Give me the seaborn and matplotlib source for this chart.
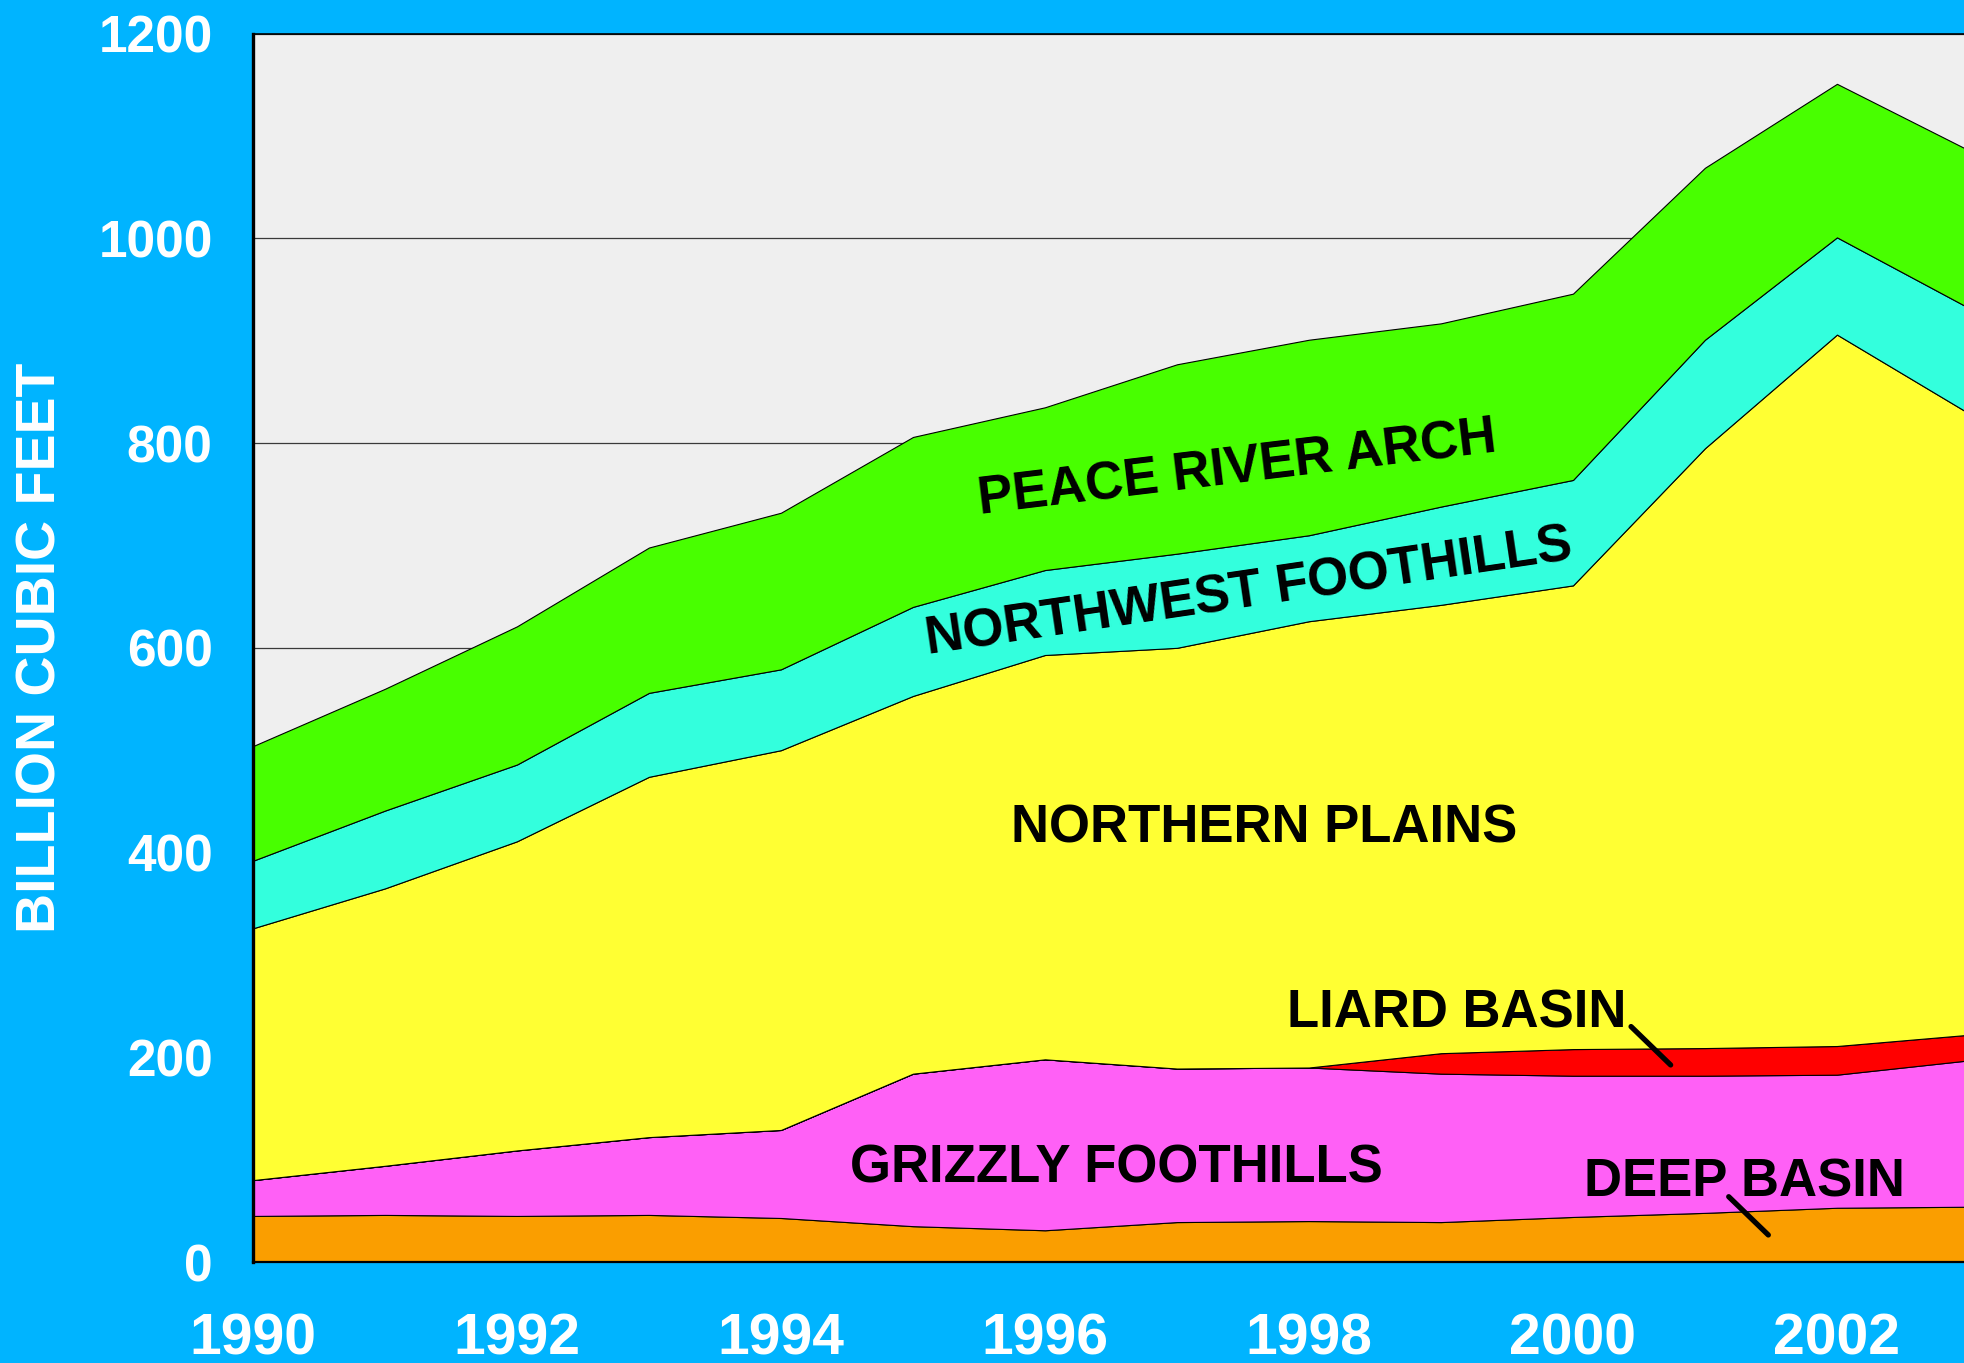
import numpy as np
import pandas as pd
import matplotlib
matplotlib.use("Agg")
import matplotlib.pyplot as plt
import seaborn as sns

# ---- data (billion cubic feet) ----
years = [1990, 1991, 1992, 1993, 1994, 1995, 1996, 1997, 1998, 1999, 2000, 2001, 2002, 2003]
deep_basin = [45, 46, 45, 46, 43, 35, 31, 39, 40, 39, 44, 48, 53, 54]
grizzly_foothills = [35, 48, 64, 76, 86, 149, 167, 150, 150, 145, 138, 134, 130, 143]
liard_basin = [0, 0, 0, 0, 0, 0, 0, 0, 0, 20, 26, 27, 28, 25]
northern_plains = [246, 271, 302, 352, 371, 369, 395, 411, 436, 438, 453, 586, 695, 607]
northwest_foothills = [66, 76, 75, 82, 79, 87, 83, 92, 84, 96, 103, 106, 95, 103]
peace_river_arch = [112, 119, 135, 142, 153, 166, 159, 185, 191, 179, 182, 168, 150, 154]

series_names = ["DEEP BASIN", "GRIZZLY FOOTHILLS", "LIARD BASIN", "NORTHERN PLAINS",
                "NORTHWEST FOOTHILLS", "PEACE RIVER ARCH"]
series_colors = ["#FA9E00", "#FF60F6", "#FF0000", "#FFFF33", "#33FFDD", "#48FF00"]
y_ticks = [0, 200, 400, 600, 800, 1000, 1200]
y_label = "BILLION CUBIC FEET"

df = pd.DataFrame({
    "year": years,
    "DEEP BASIN": deep_basin,
    "GRIZZLY FOOTHILLS": grizzly_foothills,
    "LIARD BASIN": liard_basin,
    "NORTHERN PLAINS": northern_plains,
    "NORTHWEST FOOTHILLS": northwest_foothills,
    "PEACE RIVER ARCH": peace_river_arch,
})

sns.set_theme(style="white")
plt.rcParams["font.family"] = ["Liberation Sans", "DejaVu Sans"]
plt.rcParams["font.weight"] = "bold"

BG = "#00B4FF"
fig = plt.figure(figsize=(19.65, 13.63), dpi=100, facecolor=BG)
ax = fig.add_axes([0.12875, 0.0741, 0.87125, 0.9012])
ax.set_facecolor("#EFEFEF")

# grid behind areas
ax.set_axisbelow(True)
ax.yaxis.grid(True, color="#3a3a3a", linewidth=0.9)
ax.xaxis.grid(False)

ax.stackplot(df["year"], *[df[n] for n in series_names], colors=series_colors,
             edgecolor="black", linewidth=0.8, zorder=2)

ax.set_xlim(1990, 2002.97)
ax.set_ylim(0, 1200)

tick_years = [y for y in years if y <= 2002]
ax.set_xticks(tick_years)
ax.set_xticklabels([str(y) if y % 2 == 0 else "" for y in tick_years])
ax.set_yticks(y_ticks)
ax.set_yticklabels([str(v) for v in y_ticks])

ax.tick_params(axis="both", which="major", direction="out", color="white",
               length=21, width=1.6, labelcolor="white")
ax.tick_params(axis="x", pad=15, labelsize=41)
ax.tick_params(axis="y", pad=8, labelsize=37)
for lab in ax.get_xticklabels() + ax.get_yticklabels():
    lab.set_fontweight("bold")

for side, lw in [("left", 2.4), ("bottom", 1.6), ("top", 1.2)]:
    ax.spines[side].set_visible(True)
    ax.spines[side].set_color("black")
    ax.spines[side].set_linewidth(lw)
    ax.spines[side].set_zorder(5)
ax.spines["right"].set_visible(False)

ax.set_ylabel(y_label, color="white", fontsize=40, fontweight="bold")
ax.yaxis.label.set_rotation_mode("default")
ax.yaxis.label.set_va("center")
ax.yaxis.label.set_ha("center")
ax.yaxis.set_label_coords(-0.1237, 0.5)
ax.set_xlabel("")

# region labels
lab_kw = dict(fontsize=38, fontweight="bold", color="black", ha="center",
              va="baseline", rotation_mode="anchor", zorder=6)
ax.text(1997.47, 761, "PEACE RIVER ARCH", rotation=6.9, **lab_kw)
ax.text(1997.56, 640, "NORTHWEST FOOTHILLS", rotation=8.4, **lab_kw)
ax.text(1997.66, 410, "NORTHERN PLAINS", **lab_kw)
ax.text(1999.12, 229, "LIARD BASIN", **lab_kw)
ax.text(1996.54, 77.5, "GRIZZLY FOOTHILLS", **lab_kw)
ax.text(2001.30, 64, "DEEP BASIN", **lab_kw)

# leader lines
ax.plot([2000.44, 2000.74], [230, 192.5], color="black", lw=3.8,
        solid_capstyle="round", zorder=6)
ax.plot([2001.18, 2001.48], [63.8, 26.4], color="black", lw=3.8,
        solid_capstyle="round", zorder=6)

fig.savefig("out.png", dpi=100, facecolor=BG)
